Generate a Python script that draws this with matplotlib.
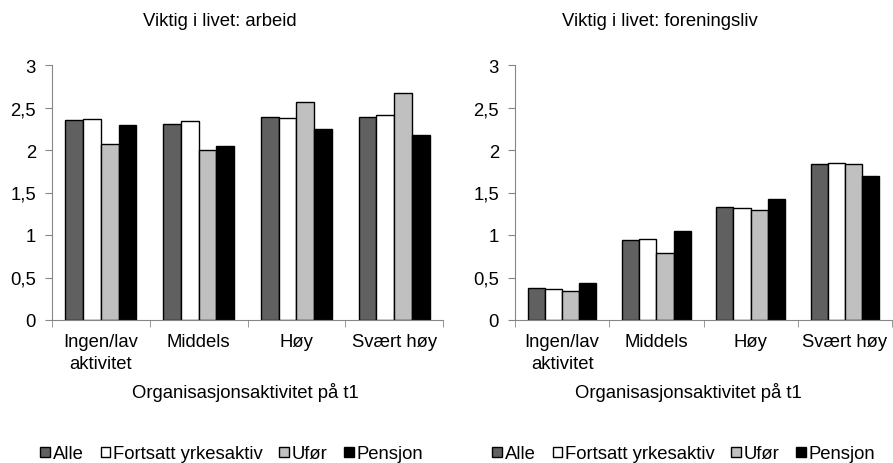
import numpy as np
import matplotlib.pyplot as plt

plt.rcParams['font.family'] = ['Liberation Sans', 'DejaVu Sans']

categories = ['Ingen/lav\naktivitet', 'Middels', 'Høy', 'Svært høy']
series = ['Alle', 'Fortsatt yrkesaktiv', 'Ufør', 'Pensjon']
colors = ['#606060', '#ffffff', '#c0c0c0', '#000000']

arbeid = [
    [2.35, 2.31, 2.39, 2.39],   # Alle
    [2.37, 2.34, 2.38, 2.41],   # Fortsatt yrkesaktiv
    [2.07, 2.00, 2.57, 2.67],   # Ufør
    [2.29, 2.05, 2.25, 2.18],   # Pensjon
]
foreningsliv = [
    [0.38, 0.94, 1.33, 1.84],
    [0.37, 0.95, 1.32, 1.85],
    [0.34, 0.79, 1.29, 1.83],
    [0.44, 1.05, 1.42, 1.70],
]
yticks = [0, 0.5, 1, 1.5, 2, 2.5, 3]
ytick_labels = ['0', '0,5', '1', '1,5', '2', '2,5', '3']

W, H = 893, 464
fig = plt.figure(figsize=(W / 100, H / 100), dpi=100)

def px_axes(x0, x1, y0, y1):
    return fig.add_axes([x0 / W, 1 - y1 / H, (x1 - x0) / W, (y1 - y0) / H])

ax1 = px_axes(52, 443, 66, 321)
ax2 = px_axes(515, 892, 66, 321)

spine_col = '#868686'
bw = 0.182
fs = 13.3
x = np.arange(len(categories))

def draw(ax, data, title, tcx, lcx, legx):
    for i, vals in enumerate(data):
        ax.bar(x + (i - 1.5) * bw, vals, bw, color=colors[i], edgecolor='black',
               linewidth=1.0, label=series[i])
    ax.set_xlim(-0.5, len(categories) - 0.5)
    ax.set_ylim(0, 3)
    ax.set_yticks(yticks)
    ax.set_yticklabels(ytick_labels, fontsize=fs)
    ax.set_xticks(x)
    ax.set_xticklabels(categories, fontsize=fs, linespacing=1.4)
    ax.set_xticks(np.arange(len(categories) + 1) - 0.5, minor=True)
    ax.tick_params(axis='x', which='major', length=0, pad=9.5)
    ax.tick_params(axis='x', which='minor', length=5, color=spine_col)
    ax.tick_params(axis='y', length=5, color=spine_col, pad=6.5)
    for s in ['top', 'right']:
        ax.spines[s].set_visible(False)
    for s in ['left', 'bottom']:
        ax.spines[s].set_color(spine_col)
    fig.text(tcx / W, 1 - 21 / H, title, ha='center', va='center', fontsize=fs)
    fig.text(lcx / W, 1 - 398 / H, 'Organisasjonsaktivitet på t1',
             ha='center', va='baseline', fontsize=fs)
    handles, labels = ax.get_legend_handles_labels()
    fig.legend(handles, labels, loc='center', bbox_to_anchor=(legx / W, 1 - 455 / H),
               ncol=4, frameon=False, fontsize=fs, handlelength=0.5, handleheight=0.5,
               handletextpad=0.18, columnspacing=0.9, borderpad=0, borderaxespad=0)

draw(ax1, arbeid, 'Viktig i livet: arbeid', 220, 245, 232)
draw(ax2, foreningsliv, 'Viktig i livet: foreningsliv', 660, 688, 684)

fig.savefig('out.png', dpi=100)
